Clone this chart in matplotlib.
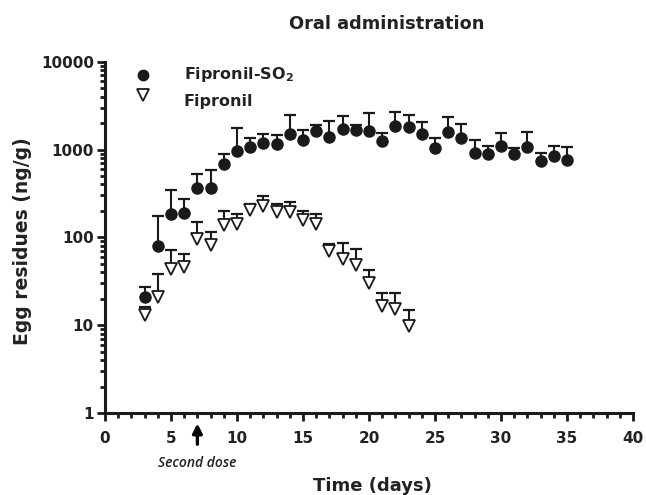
import matplotlib
matplotlib.use("Agg")
import matplotlib.pyplot as plt
from matplotlib.ticker import LogLocator, NullFormatter, MultipleLocator
import numpy as np

# Fipronil-SO2 (filled circles): mean and upper error bar end, days 3..35
so2_days = list(range(3, 36))
so2_mean = [21, 80, 183, 190, 365, 360, 680, 960, 1080, 1200, 1150, 1510, 1290, 1630,
            1380, 1730, 1680, 1630, 1260, 1830, 1800, 1500, 1050, 1580, 1340, 910,
            880, 1090, 890, 1060, 740, 850, 750]
so2_upper = [27, 174, 350, 273, 520, 590, 880, 1770, 1340, 1500, 1450, 2450, 1650, 1880,
             2090, 2420, 1880, 2600, 1540, 2670, 2500, 2080, 1360, 2330, 1950, 1290,
             1090, 1540, 1050, 1590, 920, 1090, 1080]

# Fipronil (open triangles): days 3..23
fip_days = list(range(3, 24))
fip_mean = [13, 21, 44, 46, 96, 81, 137, 140, 206, 230, 194, 194, 158, 143,
            70, 57, 48, 30, 16.4, 15.4, 9.8]
fip_upper = [16, 38, 72, 65, 149, 114, 202, 183, 240, 294, 240, 250, 202, 186,
             83, 86, 74, 42, 23.5, 23.5, 15]

second_dose_day = 7

ink = "#1a1a1a"
txt = "#222222"
bold = {"family": "DejaVu Sans", "weight": "bold"}

fig = plt.figure(figsize=(6.46, 4.95), dpi=100)
ax = fig.add_axes([0.1625, 0.1657, 0.8175, 0.7097])

# error bars (upper only)
ax.vlines(so2_days, so2_mean, so2_upper, color=ink, lw=1.5, zorder=2)
ax.plot(so2_days, so2_upper, ls="none", marker="_", ms=8, mew=1.6, color=ink, zorder=2)
ax.vlines(fip_days, fip_mean, fip_upper, color=ink, lw=1.5, zorder=2)
ax.plot(fip_days, fip_upper, ls="none", marker="_", ms=8, mew=1.6, color=ink, zorder=2)

ax.plot(so2_days, so2_mean, ls="none", marker="o", ms=8, color=ink, zorder=3)
ax.plot(fip_days, fip_mean, ls="none", marker="v", ms=9, mfc="white", mec=ink,
        mew=1.3, zorder=3)

ax.set_yscale("log")
ax.set_ylim(1, 10000)
ax.set_xlim(0, 40)
ax.set_yticks([1, 10, 100, 1000, 10000])
ax.set_yticklabels(["1", "10", "100", "1000", "10000"])
ax.yaxis.set_minor_locator(LogLocator(base=10, subs=np.arange(2, 10)))
ax.yaxis.set_minor_formatter(NullFormatter())
ax.xaxis.set_major_locator(MultipleLocator(5))
ax.xaxis.set_minor_locator(MultipleLocator(1))

for s in ["top", "right"]:
    ax.spines[s].set_visible(False)
for s in ["left", "bottom"]:
    ax.spines[s].set_linewidth(2.2)
    ax.spines[s].set_color(ink)

ax.tick_params(which="major", length=6, width=2, color=ink)
ax.tick_params(which="minor", length=3.5, width=2, color=ink)
ax.tick_params(axis="x", which="major", pad=7)
ax.tick_params(axis="y", which="major", pad=2)
for lab in ax.get_xticklabels() + ax.get_yticklabels():
    lab.set_fontproperties(bold)
    lab.set_fontsize(11)
    lab.set_color(txt)

ax.set_xlabel("Time (days)", fontdict=bold, fontsize=13, color=txt)
ax.set_ylabel("Egg residues (ng/g)", fontdict=bold, fontsize=13.5, color=txt)
ax.xaxis.set_label_coords(0.507, -0.183)
ax.yaxis.set_label_coords(-0.138, 0.49)

fig.text(0.598, 0.951, "Oral administration", ha="center", va="center",
         fontdict=bold, fontsize=12.8, color=txt)

# legend drawn by hand
ax.plot([2.88], [7110], ls="none", marker="o", ms=7.5, color=ink, clip_on=False)
ax.plot([2.88], [4220], ls="none", marker="v", ms=8.5, mfc="white", mec=ink, mew=1.3,
        clip_on=False)
ax.text(5.95, 7110, "Fipronil-SO$_\\mathbf{2}$", fontdict=bold, fontsize=11.5,
        va="center", color=txt)
ax.text(5.95, 3510, "Fipronil", fontdict=bold, fontsize=11.5, va="center", color=txt)

# second dose arrow below the axis
ax.annotate("", xy=(second_dose_day, -0.022), xycoords=("data", "axes fraction"),
            xytext=(second_dose_day, -0.097), textcoords=("data", "axes fraction"),
            arrowprops=dict(arrowstyle="-|>,head_length=0.55,head_width=0.28",
                            color="black", lw=2.4))
ax.text(second_dose_day, -0.142, "Second dose", transform=ax.get_xaxis_transform(),
        ha="center", va="center", fontsize=10, family="Open Sans", style="italic",
        weight="semibold", color=txt)

fig.savefig("out.png", dpi=100)
